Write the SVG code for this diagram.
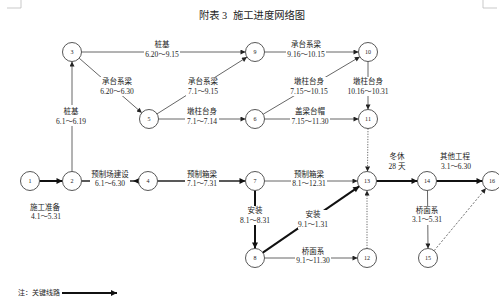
<svg xmlns="http://www.w3.org/2000/svg" width="499" height="297" viewBox="0 0 499 297">
<style>
  .bg{fill:#fff}
  .node circle{fill:#fff;stroke:#444;stroke-width:0.9}
  .node text{font-family:"Liberation Serif","Noto Sans CJK SC",serif;font-size:6px;fill:#222;text-anchor:middle}
  .e{stroke:#555;stroke-width:0.9;fill:none;marker-end:url(#ah)}
  .k{stroke:#111;stroke-width:2;fill:none;marker-end:url(#ahk)}
  .m{stroke:#222;stroke-width:1.4;fill:none;marker-end:url(#ahk)}
  .dot{stroke:#555;stroke-width:0.9;fill:none;stroke-dasharray:1.2 1.4;marker-end:url(#ah)}
  .dash{stroke:#555;stroke-width:0.8;fill:none;stroke-dasharray:2.2 1.6;marker-end:url(#ah)}
  .lb rect{fill:#fff}
  .lb text{font-family:"Liberation Serif","Noto Sans CJK SC",serif;font-size:7.5px;fill:#222;text-anchor:middle}
  .title{font-family:"Liberation Serif","Noto Sans CJK SC",serif;font-size:10.3px;fill:#222}
  .note{font-family:"Liberation Serif","Noto Sans CJK SC",serif;font-size:7px;fill:#222}
  .corner{stroke:#bbb;stroke-width:0.8;fill:none}
</style>
<defs>
  <marker id="ah" markerUnits="userSpaceOnUse" viewBox="0 0 6 6" refX="6" refY="3" markerWidth="6" markerHeight="5" orient="auto">
    <path d="M0,0 L6,3 L0,6 z" fill="#222"/>
  </marker>
  <marker id="ahk" markerUnits="userSpaceOnUse" viewBox="0 0 6 6" refX="6" refY="3" markerWidth="7" markerHeight="6" orient="auto">
    <path d="M0,0 L6,3 L0,6 z" fill="#111"/>
  </marker>
</defs>
<rect class="bg" x="0" y="0" width="499" height="297"/>
<path class="corner" d="M21,0 V8 H7 M483,0 V8 H497"/>
<text class="title" y="19"><tspan x="199">附表</tspan><tspan x="222">3</tspan><tspan x="233">施工进度网络图</tspan></text>

<g id="connectors">
  <line class="k" x1="39.5" y1="181" x2="62.5" y2="181"/>
  <line class="e" x1="72" y1="171.5" x2="72" y2="61.5"/>
  <line class="e" x1="81.5" y1="52" x2="245.5" y2="52"/>
  <line class="e" x1="79.2" y1="58.2" x2="141.8" y2="112.8"/>
  <line class="e" x1="157" y1="113.9" x2="247" y2="57.1"/>
  <line class="e" x1="158.5" y1="119" x2="245.5" y2="119"/>
  <line class="e" x1="264.5" y1="52" x2="358.5" y2="52"/>
  <line class="e" x1="263.2" y1="114.2" x2="359.8" y2="56.8"/>
  <line class="e" x1="264.5" y1="119" x2="358.5" y2="119"/>
  <line class="e" x1="368" y1="61.5" x2="368" y2="109.5"/>
  <line class="dot" x1="368" y1="128.5" x2="367.5" y2="171.5"/>
  <line x1="81.5" y1="181" x2="138.5" y2="181" stroke="#222" stroke-width="1.4"/>
  <polygon points="133,181 139.5,178 139.5,184" fill="#111"/>
  <line class="m" x1="157.5" y1="181" x2="245.5" y2="181"/>
  <line class="e" x1="264.5" y1="181" x2="357.5" y2="181"/>
  <line class="k" x1="255" y1="190.5" x2="255" y2="248.5"/>
  <line class="k" x1="262.8" y1="252.6" x2="359.2" y2="186.4"/>
  <line class="e" x1="264.5" y1="258" x2="357.5" y2="258"/>
  <line class="dot" x1="367" y1="248.5" x2="367" y2="190.5"/>
  <line class="k" x1="376.5" y1="181" x2="417.5" y2="181"/>
  <line class="k" x1="436.5" y1="181" x2="482.5" y2="181"/>
  <line class="e" x1="427.5" y1="190.5" x2="428" y2="248.5"/>
  <line class="dash" x1="434.1" y1="250.7" x2="485.9" y2="188.3"/>

  <g class="lb"><text x="45" y="210">施工准备</text><text x="46" y="218.5">4.1～5.31</text></g>
  <g class="lb"><rect x="56" y="105" width="30" height="21"/><text x="71" y="114">桩基</text><text x="71" y="123.5">6.1～6.19</text></g>
  <g class="lb"><rect x="144" y="40" width="36" height="19"/><text x="162" y="47">桩基</text><text x="162" y="57">6.20～9.15</text></g>
  <g class="lb"><rect x="99" y="77" width="36" height="19"/><text x="117" y="84">承台系梁</text><text x="117" y="93.5">6.20～6.30</text></g>
  <g class="lb"><rect x="186" y="77" width="34" height="19"/><text x="203" y="84">承台系梁</text><text x="203" y="93.5">7.1～9.15</text></g>
  <g class="lb"><rect x="185" y="107" width="34" height="19"/><text x="202" y="114">墩柱台身</text><text x="202" y="123.5">7.1～7.14</text></g>
  <g class="lb"><rect x="286" y="40" width="40" height="19"/><text x="306" y="47">承台系梁</text><text x="306" y="57">9.16～10.15</text></g>
  <g class="lb"><rect x="289" y="77" width="40" height="19"/><text x="309" y="84">墩柱台身</text><text x="309" y="93.5">7.15～10.15</text></g>
  <g class="lb"><rect x="290" y="107" width="40" height="19"/><text x="310" y="114">盖梁台帽</text><text x="310" y="123.5">7.15～11.30</text></g>
  <g class="lb"><rect x="346" y="77" width="44" height="19"/><text x="368" y="84">墩柱台身</text><text x="368" y="93.5">10.16～10.31</text></g>
  <g class="lb"><rect x="90" y="170" width="40" height="18"/><text x="110" y="177">预制场建设</text><text x="110" y="186">6.1～6.30</text></g>
  <g class="lb"><rect x="185" y="170" width="34" height="18"/><text x="202" y="177">预制箱梁</text><text x="202" y="186">7.1～7.31</text></g>
  <g class="lb"><rect x="291" y="170" width="36" height="18"/><text x="309" y="177">预制箱梁</text><text x="309" y="186">8.1～12.31</text></g>
  <g class="lb"><rect x="240" y="206" width="30" height="19"/><text x="255" y="213">安装</text><text x="255" y="222.5">8.1～8.31</text></g>
  <g class="lb"><rect x="298" y="210" width="30" height="19"/><text x="313" y="217">安装</text><text x="313" y="227">9.1～1.31</text></g>
  <g class="lb"><rect x="295" y="247" width="36" height="18"/><text x="313" y="254">桥面系</text><text x="313" y="263">9.1～11.30</text></g>
  <g class="lb"><rect x="412" y="206" width="30" height="19"/><text x="427" y="213">桥面系</text><text x="427" y="222">3.1～5.31</text></g>
  <g class="lb"><text x="397" y="159">冬休</text><text x="397" y="169">28 天</text></g>
  <g class="lb"><text x="455" y="159">其他工程</text><text x="456" y="169">3.1～6.30</text></g>
</g>

<g id="n1" class="node"><circle cx="30" cy="181" r="9.5"/><text x="30" y="183">1</text></g>
<g id="n2" class="node"><circle cx="72" cy="181" r="9.5"/><text x="72" y="183">2</text></g>
<g id="n3" class="node"><circle cx="72" cy="52" r="9.5"/><text x="72" y="54">3</text></g>
<g id="n4" class="node"><circle cx="148" cy="181" r="9.5"/><text x="148" y="183">4</text></g>
<g id="n5" class="node"><circle cx="149" cy="119" r="9.5"/><text x="149" y="121">5</text></g>
<g id="n6" class="node"><circle cx="255" cy="119" r="9.5"/><text x="255" y="121">6</text></g>
<g id="n7" class="node"><circle cx="255" cy="181" r="9.5"/><text x="255" y="183">7</text></g>
<g id="n8" class="node"><circle cx="255" cy="258" r="9.5"/><text x="255" y="260">8</text></g>
<g id="n9" class="node"><circle cx="255" cy="52" r="9.5"/><text x="255" y="54">9</text></g>
<g id="n10" class="node"><circle cx="368" cy="52" r="9.5"/><text x="368" y="54">10</text></g>
<g id="n11" class="node"><circle cx="368" cy="119" r="9.5"/><text x="368" y="121">11</text></g>
<g id="n12" class="node"><circle cx="367" cy="258" r="9.5"/><text x="367" y="260">12</text></g>
<g id="n13" class="node"><circle cx="367" cy="181" r="9.5"/><text x="367" y="183">13</text></g>
<g id="n14" class="node"><circle cx="427" cy="181" r="9.5"/><text x="427" y="183">14</text></g>
<g id="n15" class="node"><circle cx="428" cy="258" r="9.5"/><text x="428" y="260">15</text></g>
<g id="n16" class="node"><circle cx="492" cy="181" r="9.5"/><text x="492" y="183">16</text></g>

<g id="legend">
  <text class="note" x="18" y="295">注：关键线路</text>
  <line class="k" x1="62" y1="293" x2="117" y2="293"/>
</g>
</svg>
